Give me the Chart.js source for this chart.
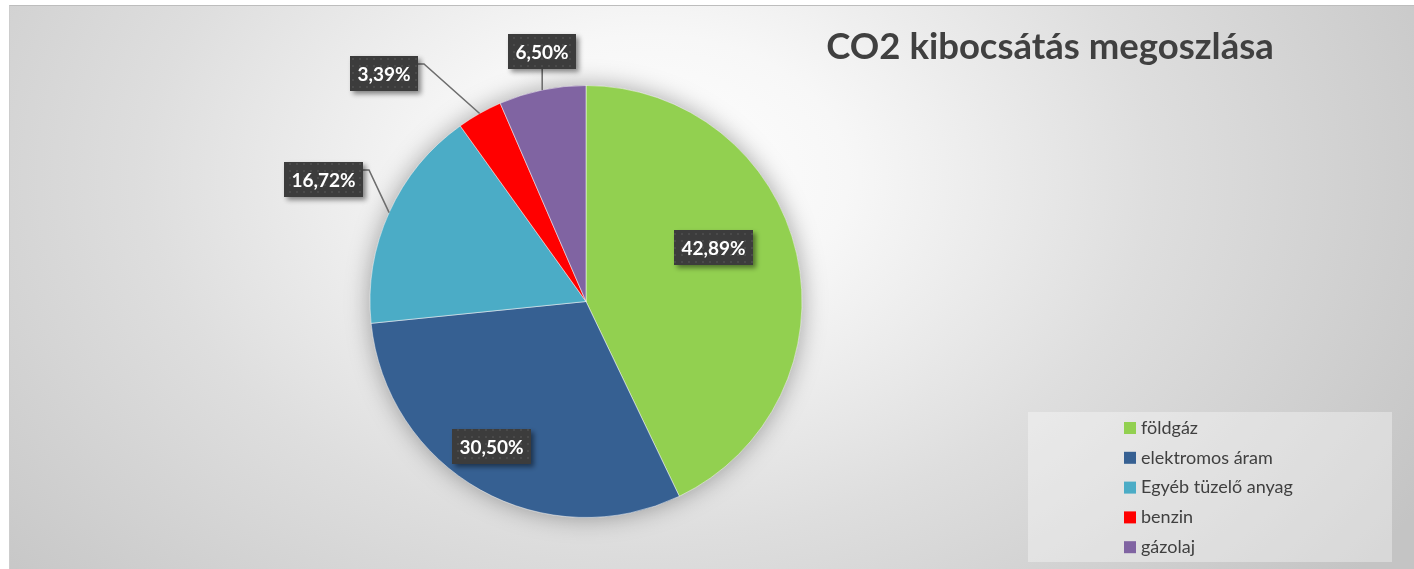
<!DOCTYPE html>
<html>
<head>
<meta charset="utf-8">
<script src="https://cdn.jsdelivr.net/npm/chart.js@4"></script>
<style>
html, body { margin: 0; padding: 0; background: #fff; }
#wrap { position: relative; width: 1414px; height: 569px; overflow: hidden; }
#bg {
  position: absolute; left: 9px; top: 5px; right: 0; bottom: 0;
  border-top: 1px solid #bdbdbd; border-left: 1px solid #cdcdcd;
  background: radial-gradient(ellipse 900px 640px at 640px 170px, #ffffff 0%, #f7f7f7 22%, #dedede 56%, #c4c4c4 100%);
}
canvas { position: absolute; left: 0; top: 0; }
</style>
</head>
<body>
<div id="wrap"><div id="bg"></div><canvas id="co2Chart" width="1414" height="569"></canvas></div>
<script>
var chartTitle = 'CO2 kibocsátás megoszlása';
var categories = ['földgáz', 'elektromos áram', 'Egyéb tüzelő anyag', 'benzin', 'gázolaj'];
var shares = [42.89, 30.50, 16.72, 3.39, 6.50];
var colors = ['#92d050', '#366092', '#4bacc6', '#ff0000', '#8064a2'];

// where each data label sits: distance in radii, turn from slice middle in degrees
var labelDist = [0.64, 0.80, 1.34, 1.41, 1.175];
var labelTurn = [-10.2, 3.8, 0.7, -12.1, 1.8];

var textColor = '#404040';

function fmt(v) {
    return v.toFixed(2).replace('.', ',') + '%';
}

function dotPattern(ctx) {
    var c = document.createElement('canvas');
    c.width = 7; c.height = 7;
    var p = c.getContext('2d');
    p.fillStyle = '#3c3c3c';
    p.fillRect(0, 0, 7, 7);
    p.fillStyle = '#4a4a4a';
    p.fillRect(2, 2, 2, 2);
    return ctx.createPattern(c, 'repeat');
}

var pieShadow = {
    id: 'pieShadow',
    beforeDatasetsDraw: function(chart) {
        var arc = chart.getDatasetMeta(0).data[0];
        var ctx = chart.ctx;
        ctx.save();
        ctx.shadowColor = 'rgba(0,0,0,0.35)';
        ctx.shadowBlur = 24;
        ctx.beginPath();
        ctx.arc(arc.x, arc.y, arc.outerRadius, 0, Math.PI * 2);
        ctx.fillStyle = '#999';
        ctx.fill();
        ctx.restore();
    }
};

var pieLabels = {
    id: 'pieLabels',
    afterDatasetsDraw: function(chart) {
        var ctx = chart.ctx;
        var pattern = dotPattern(ctx);
        chart.getDatasetMeta(0).data.forEach(function(arc, i) {
            var mid = (arc.startAngle + arc.endAngle) / 2;
            var a = mid + labelTurn[i] * Math.PI / 180;
            var r = arc.outerRadius;
            var cx = arc.x + Math.cos(a) * r * labelDist[i];
            var cy = arc.y + Math.sin(a) * r * labelDist[i];
            var text = fmt(chart.data.datasets[0].data[i]);
            ctx.save();
            ctx.font = 'bold 19px Lato';
            var bw = Math.round(ctx.measureText(text).width + 15);
            var bh = 35;
            var bx = Math.round(cx - bw / 2), by = Math.round(cy - bh / 2);

            if (labelDist[i] > 1) {
                var ex = arc.x + Math.cos(mid) * r;
                var ey = arc.y + Math.sin(mid) * r;
                ctx.strokeStyle = '#6e6e6e';
                ctx.lineWidth = 1.6;
                ctx.beginPath();
                ctx.moveTo(ex, ey);
                if (ex >= bx && ex <= bx + bw) {
                    ctx.lineTo(ex, by + bh);
                } else {
                    ctx.lineTo(bx + bw + 6, by + 8);
                    ctx.lineTo(bx + bw, by + 8);
                }
                ctx.stroke();
            }

            ctx.shadowColor = 'rgba(0,0,0,0.45)';
            ctx.shadowBlur = 5;
            ctx.shadowOffsetX = 3;
            ctx.shadowOffsetY = 3;
            ctx.fillStyle = pattern;
            ctx.fillRect(bx, by, bw, bh);
            ctx.shadowColor = 'transparent';
            ctx.fillStyle = '#ffffff';
            ctx.textAlign = 'center';
            ctx.textBaseline = 'middle';
            ctx.fillText(text, bx + bw / 2, by + bh / 2 + 1);
            ctx.restore();
        });
    }
};

var titleAndLegend = {
    id: 'titleAndLegend',
    afterDraw: function(chart) {
        var ctx = chart.ctx;
        ctx.save();
        ctx.fillStyle = textColor;
        ctx.font = 'bold 36.5px Lato';
        ctx.textAlign = 'center';
        ctx.textBaseline = 'alphabetic';
        ctx.fillText(chartTitle, 1050, 59);

        ctx.fillStyle = 'rgba(255,255,255,0.35)';
        ctx.fillRect(1028, 412, 364, 150);

        ctx.font = '18px Lato';
        ctx.textAlign = 'left';
        ctx.textBaseline = 'middle';
        chart.data.labels.forEach(function(lbl, i) {
            var y = 428 + i * 29.8;
            ctx.fillStyle = chart.data.datasets[0].backgroundColor[i];
            ctx.fillRect(1124, y - 6, 12, 12);
            ctx.fillStyle = textColor;
            ctx.fillText(lbl, 1141, y);
        });
        ctx.restore();
    }
};

var ctx = document.getElementById('co2Chart').getContext('2d');
var myChart = new Chart(ctx, {
    type: 'pie',
    data: {
        labels: categories,
        datasets: [{
            data: shares,
            backgroundColor: colors,
            borderColor: 'rgba(255,255,255,0.5)',
            borderWidth: 1
        }]
    },
    options: {
        responsive: false,
        devicePixelRatio: 1,
        animation: false,
        layout: {
            padding: { top: 85, bottom: 51, left: 0, right: 242 }
        },
        plugins: {
            legend: { display: false },
            title: { display: false },
            tooltip: { enabled: false }
        }
    },
    plugins: [pieShadow, pieLabels, titleAndLegend]
});
</script>
</body>
</html>
